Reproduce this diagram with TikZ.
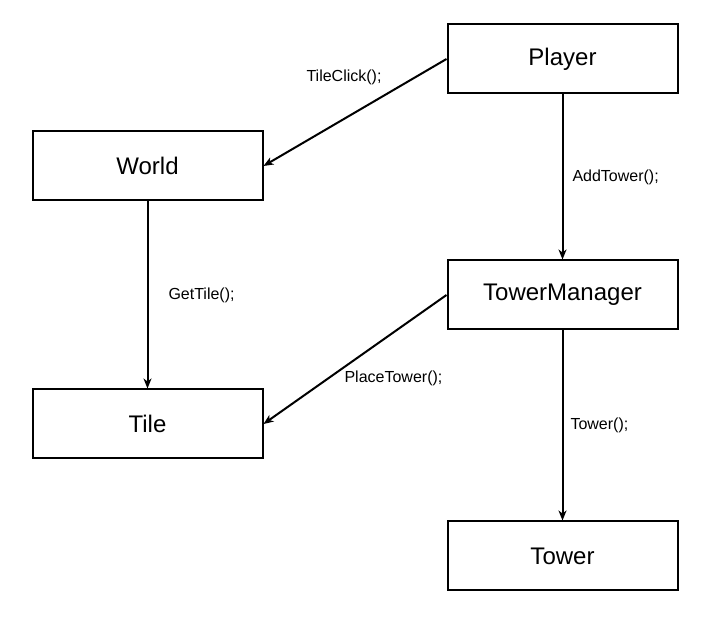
\documentclass[tikz,border=0pt]{standalone}
\usepackage{fontspec}
\setmainfont{Liberation Sans}
\usepackage{tikz}
\usetikzlibrary{positioning}
\usetikzlibrary{shapes.geometric, arrows.meta}
\tikzstyle{arrow} = [line width=2pt,->,>={Stealth[length=10pt,width=8pt,inset=3pt]}]
\tikzstyle{classbox} = [draw,line width=2pt,minimum width=230pt,minimum height=69pt,inner sep=0pt,font=\fontsize{24}{28}\selectfont]
\tikzstyle{call} = [font=\fontsize{16}{19}\selectfont,inner sep=0pt]

\begin{document}
\begin{tikzpicture}[x=1pt,y=1pt]
				\useasboundingbox (0,0) rectangle (713,-617);

				%Nodes
				\node [classbox] at (562.5,-59) (player) {Player};
				\node [classbox] at (147.5,-166) (world) {World};
				\node [classbox, below=165pt of player] (manager) {TowerManager};
				\node [classbox, below=187pt of world] (tile) {Tile};
				\node [classbox, below=190pt of manager] (tower) {Tower};

				%Lines
				\draw [arrow] (player.west) -- (world.east) node [call, pos=0.175, left=32pt] {TileClick();};
				\draw [arrow] (player) -- (manager) node [call, midway, right=9pt] {AddTower();};
				\draw [arrow] (world) -- (tile) node [call, midway, right=20pt] {GetTile();};
				\draw [arrow] (manager.west) -- (tile.east) node [call, pos=0.65, right=16pt] {PlaceTower();};
				\draw [arrow] (manager) -- (tower) node [call, midway, right=7pt] {Tower();};

			\end{tikzpicture}
\end{document}
